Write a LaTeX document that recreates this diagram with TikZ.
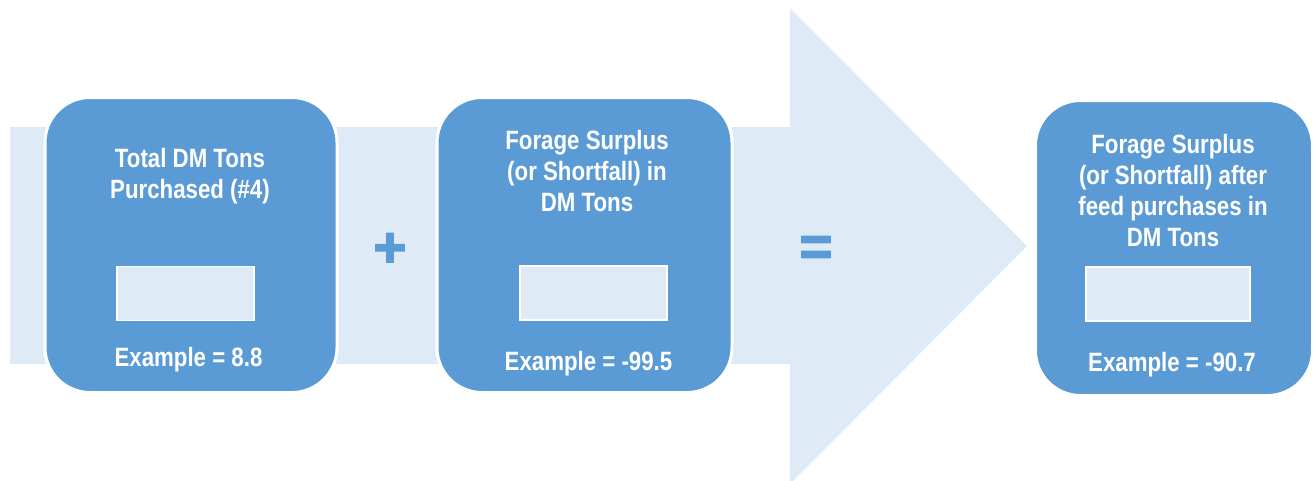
\documentclass[tikz,border=0pt]{standalone}
\usepackage{fontspec}
\setmainfont{Liberation Sans}
\newfontfamily\narrowfont[FakeStretch=0.84]{Liberation Sans}
\newfontfamily\signfont[FakeBold=3]{Liberation Sans}
\usetikzlibrary{positioning}
\definecolor{boxblue}{HTML}{5B9BD5}
\definecolor{paleblue}{HTML}{DEEAF6}

\begin{document}
\begin{tikzpicture}[x=1pt,y=-1pt]
						\tikzstyle{box}=[rectangle,rounded corners=45pt,fill=boxblue,draw=white,line width=3pt,minimum height=295pt]
						\tikzstyle{field}=[rectangle,fill=paleblue,draw=white,line width=1.2pt,minimum height=54pt]
						\tikzstyle{label}=[text=white,align=center,font=\narrowfont\bfseries\fontsize{26.5}{31}\selectfont]
						\tikzstyle{sign}=[text=boxblue,font=\signfont\bfseries\fontsize{56}{56}\selectfont]
						\useasboundingbox (0,0) rectangle (1314,480);
						\fill[paleblue] (10,127) -- (790,127) -- (790,8) -- (1027,246) -- (790,484) -- (790,364) -- (10,364) -- cycle;
						\node[box,minimum width=292pt] (b1) at (191,245) {};
						\node[box,minimum width=295pt] (b2) at (584.5,245) {};
						\node[box,minimum width=277pt] (b3) at (1174,248) {};
						\node[field,minimum width=137pt] (f1) at (185.5,293.5) {};
						\node[field,minimum width=147pt] (f2) at (593.5,293) {};
						\node[field,minimum width=164pt] (f3) at (1168,294) {};
						\node[label] (t1) at (190,176) {Total DM Tons\\Purchased (\#4)};
						\node[label] (t2) at (587,171) {Forage Surplus\\(or Shortfall) in\\DM Tons};
						\node[label] (t3) at (1173,191) {Forage Surplus\\(or Shortfall) after\\feed purchases in\\DM Tons};
						\node[label] (e1) at (188.5,360) {Example = 8.8};
						\node[label] (e2) at (588.5,364) {Example = -99.5};
						\node[label] (e3) at (1172,365) {Example = -90.7};
						\node[sign] (plus) at (390,250) {+};
						\node[sign] (equal) at (816,251) {=};
						\end{tikzpicture}
\end{document}
